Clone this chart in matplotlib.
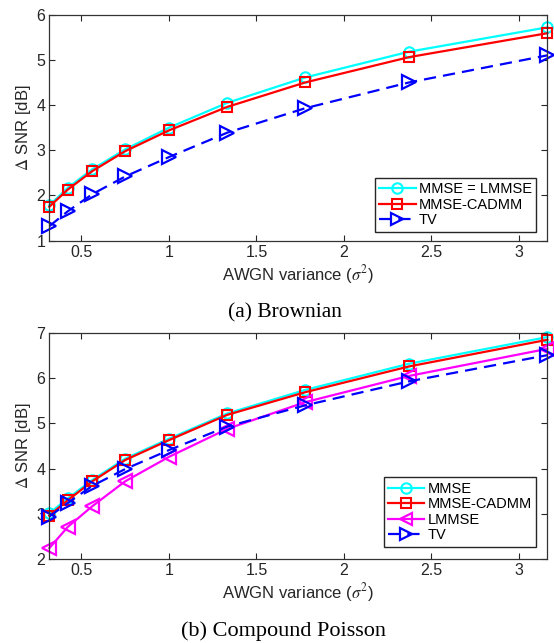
"""
Delta SNR vs AWGN variance for Brownian and compound Poisson signals
"""

import matplotlib
matplotlib.use('Agg')
import matplotlib.pyplot as plt

# AWGN variance grid (log spaced between 10^-0.5 and 10^0.5)
noise_var = [0.3162, 0.4217, 0.5623, 0.7499, 1.0, 1.3335, 1.7783, 2.3714, 3.1623]

# (a) Brownian
brown_mmse = [1.78, 2.17, 2.58, 3.02, 3.50, 4.05, 4.61, 5.18, 5.72]
brown_cadmm = [1.75, 2.13, 2.54, 2.98, 3.44, 3.96, 4.50, 5.06, 5.59]
brown_tv = [1.32, 1.65, 2.03, 2.42, 2.85, 3.39, 3.93, 4.50, 5.10]

# (b) Compound Poisson
poisson_mmse = [3.01, 3.34, 3.75, 4.22, 4.66, 5.22, 5.74, 6.32, 6.91]
poisson_cadmm = [2.96, 3.30, 3.72, 4.19, 4.63, 5.19, 5.69, 6.26, 6.85]
poisson_lmmse = [2.24, 2.71, 3.17, 3.72, 4.26, 4.88, 5.47, 6.05, 6.65]
poisson_tv = [2.94, 3.24, 3.62, 3.99, 4.41, 4.93, 5.40, 5.93, 6.51]

brown_yticks = [1, 2, 3, 4, 5, 6]
poisson_yticks = [2, 3, 4, 5, 6, 7]
xticks = [0.5, 1, 1.5, 2, 2.5, 3]

plt.rcParams['font.family'] = 'Liberation Sans'
plt.rcParams['mathtext.fontset'] = 'stix'

LW = 1.6
TV_DASH = (0, (5.5, 3.2))


def style_axes(ax, yticks, ylim):
    """MATLAB-like boxed axes with inward ticks on all sides"""
    ax.set_xlim(noise_var[0], noise_var[-1])
    ax.set_ylim(*ylim)
    ax.set_xticks(xticks)
    ax.set_xticklabels(['0.5', '1', '1.5', '2', '2.5', '3'])
    ax.set_yticks(yticks)
    ax.tick_params(direction='in', length=4.5, width=0.8, top=True, right=True,
                   labelsize=11.5, colors='#262626', pad=3)
    for s in ax.spines.values():
        s.set_color('#333333')
        s.set_linewidth(0.9)
    ax.set_xlabel(r'AWGN variance ($\sigma^2$)', fontsize=12, color='#262626', labelpad=2)
    ax.set_ylabel(r'$\Delta$ SNR [dB]', fontsize=12, color='#262626', labelpad=2)


def legend(ax, y_anchor):
    leg = ax.legend(loc='lower right', bbox_to_anchor=(0.977, y_anchor), fontsize=10.5,
                    frameon=True, fancybox=False, edgecolor='#262626', framealpha=1,
                    handlelength=2.5, handletextpad=0.2, labelspacing=0.1,
                    borderpad=0.3, borderaxespad=0.0)
    for h in leg.legend_handles:
        h.set_markersize(min(h.get_markersize(), 8.5))


fig = plt.figure(figsize=(5.54, 6.43), dpi=100)

# (a) Brownian
ax1 = fig.add_axes([0.089, 0.6257, 0.899, 0.3515])
ax1.plot(noise_var, brown_mmse, '-o', color='cyan', lw=LW, ms=7.5, mew=1.5,
         mfc='none', label='MMSE = LMMSE')
ax1.plot(noise_var, brown_cadmm, '-s', color='red', lw=LW, ms=7.5, mew=1.5,
         mfc='none', label='MMSE-CADMM')
ax1.plot(noise_var, brown_tv, linestyle=TV_DASH, marker='>', color='blue', lw=LW,
         ms=10.5, mew=1.6, mfc='none', label='TV')
style_axes(ax1, brown_yticks, (1, 6))
legend(ax1, 0.04)
fig.text(0.514, 1 - 313 / 643, '(a) Brownian', ha='center', va='center',
         fontsize=15.5, family='Liberation Serif')

# (b) Compound Poisson
ax2 = fig.add_axes([0.089, 0.1306, 0.899, 0.3515])
ax2.plot(noise_var, poisson_mmse, '-o', color='cyan', lw=LW, ms=7.5, mew=1.5,
         mfc='none', label='MMSE')
ax2.plot(noise_var, poisson_cadmm, '-s', color='red', lw=LW, ms=7.5, mew=1.5,
         mfc='none', label='MMSE-CADMM')
ax2.plot(noise_var, poisson_lmmse, '-<', color='magenta', lw=LW, ms=10.5, mew=1.6,
         mfc='none', label='LMMSE')
ax2.plot(noise_var, poisson_tv, linestyle=TV_DASH, marker='>', color='blue', lw=LW,
         ms=10.5, mew=1.6, mfc='none', label='TV')
style_axes(ax2, poisson_yticks, (2, 7))
legend(ax2, 0.055)
fig.text(0.512, 1 - 631 / 643, '(b) Compound Poisson', ha='center', va='center',
         fontsize=16, family='Liberation Serif')

for a in (ax1, ax2):
    for line in a.lines:
        line.set_clip_on(False)

fig.savefig('out.png', dpi=100)
